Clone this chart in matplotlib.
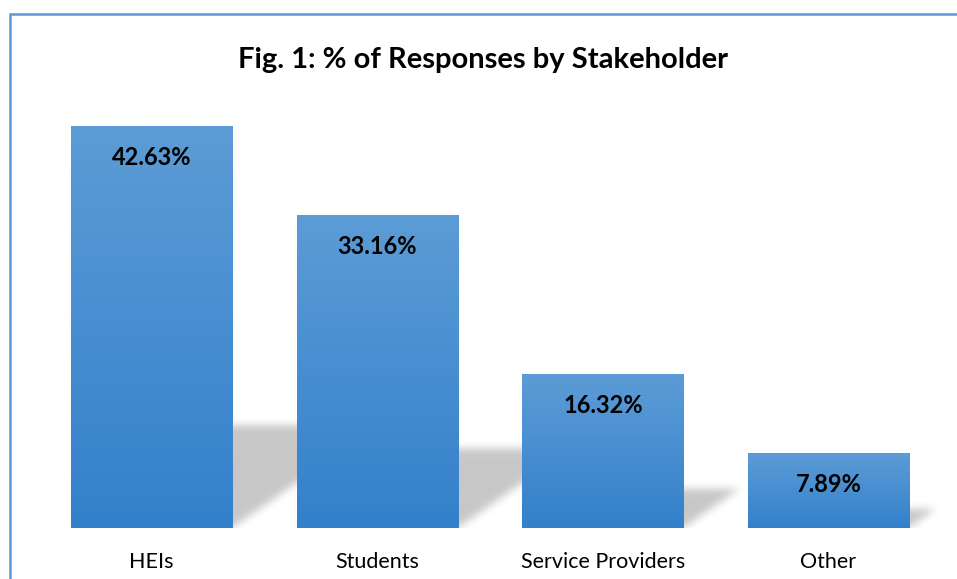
import numpy as np
import matplotlib
matplotlib.use("Agg")
import matplotlib.pyplot as plt
from matplotlib.patches import Rectangle

categories = ["HEIs", "Students", "Service Providers", "Other"]
shares = [42.63, 33.16, 16.32, 7.89]
value_labels = ["42.63%", "33.16%", "16.32%", "7.89%"]
title = "Fig. 1: % of Responses by Stakeholder"

W, H, DPI = 957, 579, 100
FONT = ["Lato", "DejaVu Sans"]
BAR_W = 0.714
YMAX = 45.0
TOP_C = np.array([0x5C, 0x9C, 0xD6]) / 255
BOT_C = np.array([0x33, 0x80, 0xCB]) / 255


def blur1d(a, sigma, axis):
    r = int(3 * sigma) + 1
    k = np.exp(-0.5 * (np.arange(-r, r + 1) / sigma) ** 2)
    k /= k.sum()
    return np.apply_along_axis(lambda v: np.convolve(v, k, mode="same"), axis, a)


fig = plt.figure(figsize=(W / DPI, H / DPI), dpi=DPI)
fig.patch.set_facecolor("white")

# chart frame (cropped on right and bottom)
fig.patches.append(Rectangle((9.5 / W, -0.05), 1.2, 1 - 13.5 / H + 0.05,
                             transform=fig.transFigure, fill=False,
                             edgecolor="#5B9BD5", linewidth=1.8))

ax = fig.add_axes([38.75 / W, 51 / H, 902.5 / W, 423.5 / H])
x = np.arange(len(categories))
ax.set_xlim(-0.5, len(categories) - 0.5)
ax.set_ylim(0, YMAX)

# perspective shadows: bar squashed to ~1/4 height and sheared to the right
nx, ny = 900, 420
gx = np.linspace(-0.5, len(categories) - 0.5, nx)
gy = np.linspace(0, YMAX, ny)
X, Y = np.meshgrid(gx, gy)
mask = np.zeros_like(X)
for xi, v in zip(x, shares):
    hs = v * 0.255
    shift = (Y / hs) * hs * 0.06
    inside = (Y <= hs) & (X >= xi - BAR_W / 2 + shift) & (X <= xi + BAR_W / 2 + shift)
    mask = np.maximum(mask, inside.astype(float))
mask = blur1d(mask, 4, 0)
mask = blur1d(mask, 4, 1)
rgba = np.zeros((ny, nx, 4))
rgba[..., 3] = mask * 0.22
ax.imshow(rgba, extent=(gx[0], gx[-1], 0, YMAX), origin="lower",
          aspect="auto", zorder=1, interpolation="bilinear")

# gradient bars
grad = np.linspace(0, 1, 256)[:, None, None]
for xi, v, lab in zip(x, shares, value_labels):
    img = BOT_C * (1 - grad) + TOP_C * grad
    ax.imshow(img, extent=(xi - BAR_W / 2, xi + BAR_W / 2, 0, v),
              origin="lower", aspect="auto", zorder=2, interpolation="bilinear")
    ax.text(xi, v - 3.3, lab, ha="center", va="center", fontsize=17,
            fontweight="bold", family=FONT, color="black", zorder=3)

ax.set_xlim(-0.5, len(categories) - 0.5)
ax.set_ylim(0, YMAX)
ax.set_xticks(x)
ax.set_xticklabels(categories, fontsize=15.5, family=FONT)
ax.tick_params(axis="x", length=0, pad=17)
ax.set_yticks([])
for s in ax.spines.values():
    s.set_visible(False)
ax.patch.set_alpha(0)

fig.text(483.5 / W, 1 - 60 / H, title, ha="center", va="center",
         fontsize=21, fontweight="bold", family=FONT)

fig.savefig("out.png", dpi=DPI)
